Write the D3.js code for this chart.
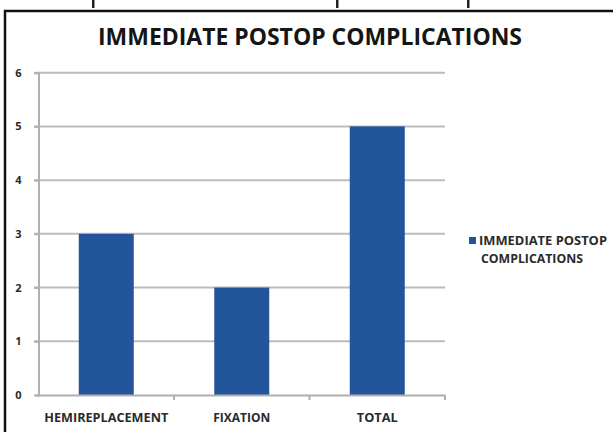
<!DOCTYPE html>
<html><head><meta charset="utf-8">
<script src="https://cdn.jsdelivr.net/npm/d3@7"></script>
<style>html,body{margin:0;padding:0;background:#fff;}svg{display:block;}</style>
</head><body>
<svg id="c" width="613" height="432"></svg>
<script>
const categories = ["HEMIREPLACEMENT", "FIXATION", "TOTAL"];
const values = [3, 2, 5];
const yTicks = [0, 1, 2, 3, 4, 5, 6];
const seriesName = "IMMEDIATE POSTOP COMPLICATIONS";
const titleText = "IMMEDIATE POSTOP COMPLICATIONS";

const svg = d3.select("#c");
const font = "'Open Sans', 'DejaVu Sans', sans-serif";
const barColor = "#23559a";
const textColor = "#2a2a2a";

// outer frame (right and bottom edges lie outside the picture)
svg.append("rect").attr("x", 5).attr("y", 11).attr("width", 640).attr("height", 440)
  .attr("fill", "#fff").attr("stroke", "#111").attr("stroke-width", 2.5);

// cut-off marks above the frame
[93, 337, 468].forEach(x => svg.append("rect").attr("x", x - 1).attr("y", 0).attr("width", 2.5).attr("height", 8).attr("fill", "#222"));

const left = 38.5, right = 445;
const x = d3.scaleBand().domain(categories).range([left, right]).paddingInner(0.594).paddingOuter(0.297);
const y = d3.scaleLinear().domain([0, 6]).range([395, 72.7]);

// gridlines
svg.append("g").selectAll("line").data(yTicks.filter(d => d > 0)).join("line")
  .attr("x1", 34).attr("x2", right).attr("y1", d => y(d)).attr("y2", d => y(d))
  .attr("stroke", "#bcbcbc").attr("stroke-width", 2);

// y axis
const yAxis = svg.append("g").attr("transform", `translate(${left},0)`)
  .call(d3.axisLeft(y).tickValues(yTicks).tickSize(4).tickPadding(13).tickFormat(d3.format("d")));
yAxis.select(".domain").attr("stroke", "#b0b0b0").attr("stroke-width", 2);
yAxis.selectAll(".tick line").attr("stroke", "#b0b0b0").attr("stroke-width", 2);
yAxis.selectAll("text").attr("font-family", font).attr("font-weight", "bold").attr("font-size", 11).attr("fill", textColor);

// bars
svg.append("g").selectAll("rect").data(values).join("rect")
  .attr("x", (d, i) => x(categories[i])).attr("width", x.bandwidth())
  .attr("y", d => y(d)).attr("height", d => y(0) - y(d))
  .attr("fill", barColor);

// x axis
const xAxis = svg.append("g").attr("transform", "translate(0,395)")
  .call(d3.axisBottom(x).tickSize(0).tickPadding(18));
xAxis.select(".domain").attr("stroke", "#b0b0b0").attr("stroke-width", 2);
xAxis.selectAll("text").attr("font-family", font).attr("font-weight", "bold").attr("font-size", 13).attr("fill", textColor)
  .attr("textLength", d => ({"HEMIREPLACEMENT": 124, "FIXATION": 57, "TOTAL": 41})[d]).attr("lengthAdjust", "spacingAndGlyphs");
// category boundary ticks
const bounds = [left + x.step(), left + 2 * x.step(), right];
svg.append("g").selectAll("line").data(bounds).join("line")
  .attr("x1", d => d).attr("x2", d => d).attr("y1", 395).attr("y2", 400)
  .attr("stroke", "#b0b0b0").attr("stroke-width", 2);

// title
svg.append("text").attr("x", 310).attr("y", 45).attr("text-anchor", "middle")
  .attr("font-family", font).attr("font-weight", "bold").attr("font-size", 23.5).attr("fill", "#151515")
  .attr("textLength", 424).attr("lengthAdjust", "spacingAndGlyphs").text(titleText);

// legend
svg.append("rect").attr("x", 469).attr("y", 237).attr("width", 7).attr("height", 7).attr("fill", barColor);
const words = seriesName.split(" ");
const lines = [words.slice(0, 2).join(" "), words.slice(2).join(" ")];
svg.append("text").attr("x", 479).attr("y", 245).attr("font-family", font).attr("font-weight", "bold")
  .attr("font-size", 11.5).attr("fill", textColor).attr("textLength", 128).attr("lengthAdjust", "spacingAndGlyphs").text(lines[0]);
svg.append("text").attr("x", 481).attr("y", 263).attr("font-family", font).attr("font-weight", "bold")
  .attr("font-size", 11.5).attr("fill", textColor).attr("textLength", 102).attr("lengthAdjust", "spacingAndGlyphs").text(lines[1]);
</script>
</body></html>
